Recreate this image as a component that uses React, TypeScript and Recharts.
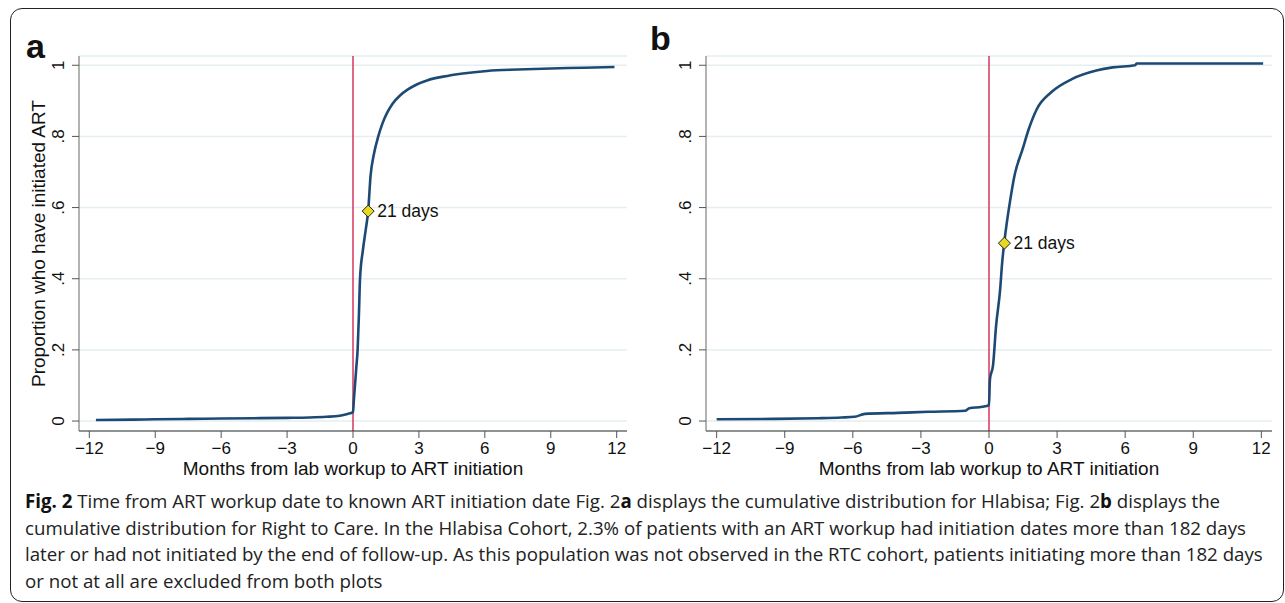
import React from 'react';
import {LineChart, Line, XAxis, YAxis, CartesianGrid, ReferenceLine, ReferenceDot, Label} from 'recharts';

// tick values shared by both panels
const monthTicks = [-12, -9, -6, -3, 0, 3, 6, 9, 12];
const propTicks = [0, 0.2, 0.4, 0.6, 0.8, 1];

// panel a: Hlabisa cumulative distribution (months, proportion)
const hlabisaMonths = [-11.7, -10, -9, -7.5, -6, -4.5, -3, -2, -1.2, -0.6, -0.25, 0, 0.04, 0.09, 0.15, 0.21, 0.27, 0.32, 0.45, 0.58, 0.69, 0.8, 0.95, 1.15, 1.35, 1.55, 1.8, 2.14, 2.5, 2.9, 3.4, 4.1, 5, 6.1, 7.5, 9, 10.5, 11.9];
const hlabisaProp = [0.003, 0.004, 0.005, 0.006, 0.007, 0.008, 0.009, 0.01, 0.012, 0.015, 0.02, 0.025, 0.06, 0.1, 0.15, 0.2, 0.3, 0.4, 0.48, 0.538, 0.59, 0.69, 0.75, 0.8, 0.838, 0.866, 0.892, 0.915, 0.932, 0.946, 0.958, 0.968, 0.977, 0.984, 0.988, 0.991, 0.993, 0.995];

// panel b: Right to Care cumulative distribution
const rtcMonths = [-12, -9.5, -7.55, -6.5, -5.92, -5.47, -4, -2.67, -1.05, -0.87, -0.3, 0, 0.04, 0.18, 0.31, 0.49, 0.58, 0.67, 0.94, 1.12, 1.48, 1.75, 2.11, 2.74, 3.65, 4.73, 5.45, 6.44, 6.5, 9, 12.08];
const rtcProp = [0.005, 0.006, 0.008, 0.01, 0.012, 0.02, 0.023, 0.026, 0.029, 0.036, 0.04, 0.045, 0.116, 0.158, 0.266, 0.369, 0.445, 0.5, 0.623, 0.689, 0.764, 0.82, 0.877, 0.924, 0.961, 0.985, 0.994, 1.0, 1.005, 1.005, 1.005];

// 21-day markers
const markerLabel = '21 days';
const hlabisaMarker = [0.69, 0.59];
const rtcMarker = [0.68, 0.5];

const xTitle = 'Months from lab workup to ART initiation';
const yTitle = 'Proportion who have initiated ART';

const toRows = (xs, ys) => xs.map((m, i) => ({month: m, prop: ys[i]}));
const hlabisaData = toRows(hlabisaMonths, hlabisaProp);
const rtcData = toRows(rtcMonths, rtcProp);

const FONT = '"Liberation Sans", Arial, sans-serif';
const BLUE = '#1d4a74';
const RED = '#d4365c';

const fmtProp = (v) => (v === 0 ? '0' : v === 1 ? '1' : String(v).replace(/^0/, ''));
const fmtMonth = (v) => (v < 0 ? '\u2212' + Math.abs(v) : String(v));

const YTick = (props) => {
    const {x, y, payload} = props;
    const bx = x - 8;
    return (
        <text x={bx} y={y} transform={`rotate(-90 ${bx} ${y})`} textAnchor="middle"
              fontSize={17} fontFamily={FONT} fill="#111">
            {fmtProp(payload.value)}
        </text>
    );
};

const XTick = (props) => {
    const {x, y, payload} = props;
    return (
        <text x={x} y={y + 16} textAnchor="middle" fontSize={17} fontFamily={FONT} fill="#111">
            {fmtMonth(payload.value)}
        </text>
    );
};

const Diamond = (props) => {
    const {cx, cy} = props;
    const s = 6;
    return (
        <g>
            <path d={`M${cx},${cy - s}L${cx + s},${cy}L${cx},${cy + s}L${cx - s},${cy}Z`}
                  fill="#e8d820" stroke="#222" strokeWidth={1}/>
            <text x={cx + 9} y={cy} dy="0.36em" fontSize={17.5} fontFamily={FONT} fill="#111">
                {markerLabel}
            </text>
        </g>
    );
};

const Panel = ({data, marker, width, yAxisWidth, showYTitle}) => (
    <LineChart width={width} height={480} margin={{top: 56, right: 13, left: 0, bottom: 0}}>
        <CartesianGrid vertical={false} stroke="#e5eef0" strokeWidth={1.5}/>
        <XAxis type="number" dataKey="month" domain={[-12.47, 12.47]} ticks={monthTicks}
               allowDataOverflow height={49} tickSize={7} tickMargin={0}
               stroke="#333" tickLine={{stroke: '#555'}} tick={<XTick/>}>
            <Label content={(p) => {
                const vb = p.viewBox;
                return (
                    <text x={vb.x + vb.width / 2} y={474.5} textAnchor="middle"
                          fontSize={19} fontFamily={FONT} fill="#111">{xTitle}</text>
                );
            }}/>
        </XAxis>
        <YAxis type="number" domain={[-0.028, 1.026]} ticks={propTicks} allowDataOverflow
               width={yAxisWidth} tickSize={7} tickMargin={0}
               stroke="#666" tickLine={{stroke: '#555'}} tick={<YTick/>}>
            {showYTitle && (
                <Label content={(p) => {
                    const vb = p.viewBox;
                    const cy = vb.y + vb.height / 2;
                    return (
                        <text x={45} y={cy} transform={`rotate(-90 45 ${cy})`} textAnchor="middle"
                              fontSize={19} fontFamily={FONT} fill="#111">{yTitle}</text>
                    );
                }}/>
            )}
        </YAxis>
        <ReferenceLine x={0} stroke={RED} strokeWidth={1.5}/>
        <Line data={data} dataKey="prop" type="monotone" stroke={BLUE} strokeWidth={2.6}
              dot={false} activeDot={false} isAnimationActive={false}/>
        <ReferenceDot x={marker[0]} y={marker[1]} r={6} shape={<Diamond/>}/>
    </LineChart>
);

const captionStyle = {fontFamily: '"Open Sans", "Noto Sans", sans-serif', fontSize: 18.7, fill: '#222'};

export default function App() {
    return (
        <div style={{position: 'absolute', left: 0, top: 0, width: 1285, height: 603, background: '#fff', overflow: 'hidden'}}>
            <div style={{position: 'absolute', left: 10, top: 8, width: 1274, height: 594, boxSizing: 'border-box',
                border: '1.6px solid #222', borderRadius: 12}}/>
            <div style={{position: 'absolute', left: 0, top: 0}}>
                <Panel data={hlabisaData} marker={hlabisaMarker} width={640} yAxisWidth={79} showYTitle/>
            </div>
            <div style={{position: 'absolute', left: 640, top: 0}}>
                <Panel data={rtcData} marker={rtcMarker} width={645} yAxisWidth={66} showYTitle={false}/>
            </div>
            <svg style={{position: 'absolute', left: 0, top: 0}} width={1285} height={603} pointerEvents="none">
                <text x={26} y={58} fontSize={34} fontWeight="bold" fontFamily={FONT} fill="#111">a</text>
                <text x={650} y={50} fontSize={34} fontWeight="bold" fontFamily={FONT} fill="#111">b</text>
                <g style={captionStyle}>
                    <text x={25} y={507.8}>
                        <tspan fontWeight="bold" fill="#111">Fig. 2</tspan> Time from ART workup date to known ART initiation date Fig. 2<tspan fontWeight="bold" fill="#111">a</tspan> displays the cumulative distribution for Hlabisa; Fig. 2<tspan fontWeight="bold" fill="#111">b</tspan> displays the
                    </text>
                    <text x={25} y={534.5}>cumulative distribution for Right to Care. In the Hlabisa Cohort, 2.3% of patients with an ART workup had initiation dates more than 182 days</text>
                    <text x={25} y={561.2}>later or had not initiated by the end of follow-up. As this population was not observed in the RTC cohort, patients initiating more than 182 days</text>
                    <text x={25} y={587.8}>or not at all are excluded from both plots</text>
                </g>
            </svg>
        </div>
    );
}
